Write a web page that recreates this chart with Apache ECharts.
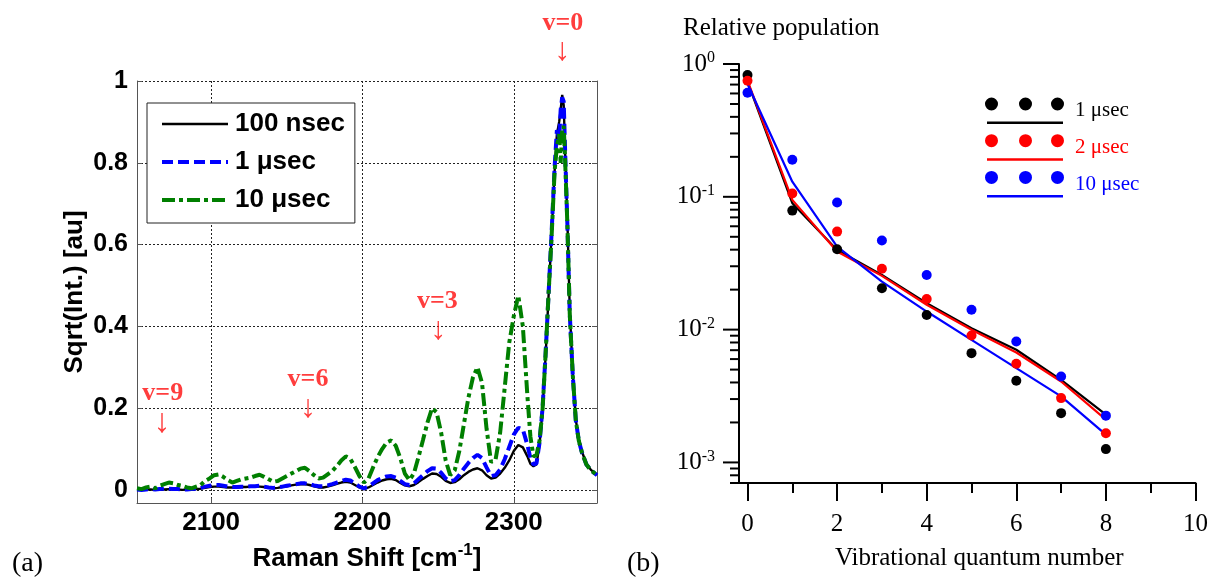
<!DOCTYPE html>
<html><head><meta charset="utf-8">
<script src="https://cdn.jsdelivr.net/npm/echarts@6/dist/echarts.min.js"></script>
<style>html,body{margin:0;padding:0;background:#fff}#c{width:1211px;height:578px}</style>
</head><body><div id="c"></div>
<script>
// ---------- Panel (a): Raman spectra ----------
const ramanShift = [2051,2054,2057,2060,2063,2066,2069,2072,2075,2078,2081,2084,2087,2090,2093,2096,2099,2102,2105,2108,2111,2114,2117,2120,2123,2126,2129,2132,2135,2138,2141,2144,2147,2150,2153,2156,2159,2162,2165,2168,2171,2174,2177,2180,2183,2186,2189,2192,2195,2198,2201,2204,2207,2210,2213,2216,2219,2222,2225,2228,2231,2234,2237,2240,2243,2246,2249,2252,2255,2258,2261,2264,2267,2270,2273,2276,2279,2282,2285,2288,2291,2294,2297,2300,2303,2306,2309,2311,2313,2315,2317,2319,2321,2323,2325,2327,2328.5,2330,2331,2332,2333,2334,2335.5,2337,2339,2341,2343,2345,2348,2351,2355];
const spec100ns = [0.000,0.000,0.001,0.001,0.000,0.001,0.001,0.002,0.001,0.001,
0.000,0.001,0.001,0.002,0.003,0.005,0.007,0.008,0.008,0.007,
0.006,0.006,0.006,0.007,0.007,0.008,0.008,0.008,0.007,0.005,
0.004,0.005,0.007,0.009,0.011,0.013,0.014,0.014,0.012,0.009,
0.006,0.006,0.008,0.011,0.015,0.018,0.020,0.018,0.012,0.006,
0.002,0.006,0.012,0.018,0.023,0.026,0.027,0.024,0.017,0.011,
0.009,0.012,0.019,0.027,0.034,0.040,0.039,0.032,0.022,0.017,
0.019,0.026,0.036,0.044,0.050,0.053,0.048,0.036,0.028,0.030,
0.040,0.054,0.072,0.095,0.110,0.104,0.082,
0.064,0.058,0.062,0.110,0.195,0.325,0.475,0.625,0.780,0.870,0.900,0.930,0.966,0.940,0.820,0.650,0.440,0.285,0.172,0.122,0.094,0.064,0.049,0.037];
const spec1us = [0.001,0.000,0.001,0.002,0.001,0.002,0.003,0.003,0.002,0.002,
0.001,0.001,0.002,0.003,0.005,0.008,0.010,0.012,0.012,0.010,
0.008,0.007,0.007,0.008,0.008,0.009,0.009,0.010,0.008,0.006,
0.005,0.006,0.008,0.010,0.012,0.014,0.016,0.016,0.014,0.011,
0.009,0.009,0.011,0.014,0.018,0.022,0.025,0.023,0.016,0.008,
0.004,0.008,0.016,0.024,0.029,0.033,0.034,0.030,0.022,0.014,
0.012,0.016,0.026,0.036,0.046,0.053,0.052,0.042,0.028,0.021,
0.024,0.036,0.052,0.066,0.078,0.086,0.078,0.055,0.034,0.036,
0.050,0.075,0.105,0.135,0.152,0.148,0.110,
0.078,0.062,0.065,0.115,0.200,0.330,0.480,0.630,0.790,0.880,0.860,0.930,0.960,0.950,0.820,0.640,0.430,0.280,0.170,0.120,0.092,0.062,0.048,0.036];
const spec10us = [0.004,0.002,0.006,0.008,0.004,0.010,0.014,0.018,0.016,0.012,
0.010,0.006,0.004,0.008,0.012,0.022,0.028,0.036,0.038,0.032,
0.024,0.018,0.022,0.026,0.028,0.030,0.034,0.037,0.032,0.026,
0.020,0.022,0.028,0.034,0.040,0.046,0.052,0.054,0.046,0.036,
0.028,0.030,0.038,0.046,0.058,0.072,0.082,0.076,0.056,0.034,
0.018,0.028,0.055,0.080,0.100,0.116,0.121,0.108,0.078,0.040,
0.024,0.040,0.080,0.122,0.165,0.200,0.190,0.140,0.072,0.036,
0.048,0.095,0.160,0.225,0.275,0.300,0.262,0.150,0.068,0.075,
0.140,0.250,0.360,0.425,0.475,0.400,0.230,
0.130,0.082,0.085,0.120,0.195,0.330,0.480,0.620,0.780,0.840,0.870,0.800,0.880,0.890,0.800,0.640,0.430,0.280,0.170,0.120,0.092,0.062,0.048,0.036];
const specNames = ['100 nsec', '1 \u03bcsec', '10 \u03bcsec'];
const ramanTicks = [2100, 2200, 2300];
const sqrtTicks = [0, 0.2, 0.4, 0.6, 0.8, 1];
// annotation labels (text centre) and arrows (centre)
const annotText = [[2332.4, 1.141, 'v=0'], [2249.5, 0.461, 'v=3'], [2164, 0.270, 'v=6'], [2068, 0.236, 'v=9']];
const annotArrow = [[2332.2, 1.071], [2250.2, 0.390], [2164.2, 0.198], [2067.5, 0.162]];

// ---------- Panel (b): relative population ----------
const vibQuantum = [0, 1, 2, 3, 4, 5, 6, 7, 8];
const pop1usPts  = [0.826, 0.0787, 0.0403, 0.0205, 0.0129, 0.00665, 0.00412, 0.00235, 0.00126];
const pop2usPts  = [0.749, 0.106, 0.0547, 0.0287, 0.0170, 0.00904, 0.00553, 0.00305, 0.00166];
const pop10usPts = [0.608, 0.190, 0.0905, 0.0469, 0.0258, 0.0141, 0.00815, 0.00444, 0.00225];
const pop1usFit  = [0.736, 0.0895, 0.0398, 0.0258, 0.0158, 0.01026, 0.00705, 0.00419, 0.00229];
const pop2usFit  = [0.749, 0.0948, 0.0387, 0.0254, 0.0154, 0.00997, 0.00673, 0.00407, 0.00210];
const pop10usFit = [0.707, 0.130, 0.0422, 0.0230, 0.01368, 0.00838, 0.00513, 0.00314, 0.00162];
const popNames = ['p1', 'p2', 'p10'];
const popLabels = {p1: '1 \u03bcsec', p2: '2 \u03bcsec', p10: '10 \u03bcsec'};
const popColors = ['#000000', '#ff0000', '#0000ff'];
const vibMin = -0.19, vibMax = 10;
const vibMajorTicks = [0, 2, 4, 6, 8, 10];
const vibMinorTicks = [1, 3, 5, 7, 9];
const popMin = 0.0007, popMax = 1;
const popMajorTicks = [0.001, 0.01, 0.1, 1];
const popMinorTicks = [0.9,0.8,0.7,0.6,0.5,0.4,0.3,0.2,0.09,0.08,0.07,0.06,0.05,0.04,0.03,0.02,0.009,0.008,0.007,0.006,0.005,0.004,0.003,0.002,0.0009,0.0008,0.0007];

const SANS = 'Liberation Sans';
const SERIF = 'Liberation Serif';
const RED = '#ff0d0d';
const pairs = (xs, ys) => xs.map((x, i) => [x, ys[i]]);

const chart = echarts.init(document.getElementById('c'), null, {renderer: 'canvas'});
const specColors = ['#000000', '#0000ff', '#007f00'];
const specStyles = [
  {width: 2.4, type: 'solid'},
  {width: 4, type: [11, 5]},
  {width: 4, type: [13, 4, 4, 4]}
];
const specData = [spec100ns, spec1us, spec10us];

const series = [];
specData.forEach((d, i) => {
  series.push({
    type: 'line', name: specNames[i], xAxisIndex: 0, yAxisIndex: 0,
    data: pairs(ramanShift, d), symbol: 'none', showSymbol: false,
    lineStyle: Object.assign({color: specColors[i]}, specStyles[i]),
    itemStyle: {color: specColors[i]}, z: 2 + i
  });
});
series.push({
  type: 'scatter', xAxisIndex: 0, yAxisIndex: 0, silent: true, clip: false,
  symbolSize: 0, data: annotText,
  label: {show: true, position: 'inside', formatter: p => p.value[2],
    fontFamily: SERIF, fontWeight: 'bold', fontSize: 26, color: RED}
});
series.push({
  type: 'scatter', xAxisIndex: 0, yAxisIndex: 0, silent: true, clip: false,
  symbolSize: 0,
  data: annotArrow.map((a, i) => ({value: a, label: i === 3 ? {fontWeight: 'bold', fontSize: 34} : {}})),
  label: {show: true, position: 'inside', formatter: '\u2193',
    fontFamily: SERIF, fontSize: 32, color: RED}
});
const ptsData = [pop1usPts, pop2usPts, pop10usPts];
const fitData = [pop1usFit, pop2usFit, pop10usFit];
ptsData.forEach((d, i) => {
  series.push({
    type: 'scatter', name: popNames[i], xAxisIndex: 1, yAxisIndex: 2,
    data: pairs(vibQuantum, d), symbol: 'circle', symbolSize: 10,
    itemStyle: {color: popColors[i], opacity: 1}, z: 5
  });
});
fitData.forEach((d, i) => {
  series.push({
    type: 'line', name: popNames[i], xAxisIndex: 1, yAxisIndex: 2,
    data: pairs(vibQuantum, d), symbol: 'none', showSymbol: false,
    lineStyle: {color: popColors[i], width: 2.2, opacity: 1}, itemStyle: {color: popColors[i]}, z: 3
  });
});

const dotted = {show: true, lineStyle: {color: '#222', width: 1, type: [2, 2]}};
const legendIcon = 'path://M0,6.5a6.5,6.5 0 1,0 13,0a6.5,6.5 0 1,0 -13,0z M34,6.5a6.5,6.5 0 1,0 13,0a6.5,6.5 0 1,0 -13,0z M66,6.5a6.5,6.5 0 1,0 13,0a6.5,6.5 0 1,0 -13,0z M2,24h76v2.5h-76z';

const baseGraphic = [
  {type: 'text', x: 683, y: 28, style: {text: 'Relative population', fontFamily: SERIF, fontSize: 25, fill: '#000', verticalAlign: 'middle'}},
  {type: 'text', x: 12, y: 564, style: {text: '(a)', fontFamily: SERIF, fontSize: 28, fill: '#000', verticalAlign: 'middle'}},
  {type: 'text', x: 627, y: 564, style: {text: '(b)', fontFamily: SERIF, fontSize: 28, fill: '#000', verticalAlign: 'middle'}}
];

const option = {
  animation: false,
  backgroundColor: '#ffffff',
  grid: [
    {left: 137, right: 614, top: 81, bottom: 75},
    {left: 739, right: 14, top: 64, bottom: 95}
  ],
  xAxis: [
    {type: 'value', gridIndex: 0, min: 2051, max: 2355, position: 'bottom',
      axisLine: {show: true, onZero: false, lineStyle: {color: '#555', width: 1}},
      axisTick: {show: true, inside: true, length: 5, customValues: ramanTicks, lineStyle: {color: '#555'}},
      axisLabel: {customValues: ramanTicks, margin: 7, fontFamily: SANS, fontWeight: 'bold', fontSize: 26, color: '#000',
        formatter: v => String(v)},
      splitLine: dotted,
      name: '{t|Raman Shift [cm}{s|-1}{t|]}', nameLocation: 'middle', nameGap: 35,
      nameTextStyle: {rich: {
        t: {fontFamily: SANS, fontWeight: 'bold', fontSize: 26, lineHeight: 30, padding: [5, 0, 0, 0], color: '#000'},
        s: {fontFamily: SANS, fontWeight: 'bold', fontSize: 17, lineHeight: 18, verticalAlign: 'top', color: '#000'}
      }}
    },
    {type: 'value', gridIndex: 1, min: vibMin, max: vibMax, position: 'bottom',
      axisLine: {show: true, onZero: false, lineStyle: {color: '#000', width: 2}},
      axisTick: {show: true, inside: false, length: 18, customValues: vibMajorTicks, lineStyle: {color: '#000', width: 2}},
      axisLabel: {customValues: vibMajorTicks, margin: 29, fontFamily: SERIF, fontSize: 25, color: '#000'},
      splitLine: {show: false},
      name: 'Vibrational quantum number', nameLocation: 'middle', nameGap: 61,
      nameTextStyle: {fontFamily: SERIF, fontSize: 25, lineHeight: 28, color: '#000', padding: [0, 0, 0, 24]}
    },
    {type: 'value', gridIndex: 1, min: vibMin, max: vibMax, position: 'bottom',
      axisLine: {show: false, onZero: false},
      axisTick: {show: true, inside: false, length: 10, customValues: vibMinorTicks, lineStyle: {color: '#000', width: 2}},
      axisLabel: {show: false}, splitLine: {show: false}
    }
  ],
  yAxis: [
    {type: 'value', gridIndex: 0, min: -0.032, max: 1, position: 'left',
      axisLine: {show: true, onZero: false, lineStyle: {color: '#555', width: 1}},
      axisTick: {show: true, inside: true, length: 5, customValues: sqrtTicks, lineStyle: {color: '#555'}},
      axisLabel: {customValues: sqrtTicks, margin: 9, fontFamily: SANS, fontWeight: 'bold', fontSize: 25, color: '#000',
        formatter: v => String(Math.round(v * 10) / 10)},
      splitLine: dotted,
      name: 'Sqrt(Int.) [au]', nameLocation: 'middle', nameGap: 49,
      nameTextStyle: {fontFamily: SANS, fontWeight: 'bold', fontSize: 26, color: '#000'}
    },
    {type: 'value', gridIndex: 0, min: -0.032, max: 1, position: 'right',
      axisLine: {show: true, onZero: false, lineStyle: {color: '#555', width: 1}},
      axisTick: {show: true, inside: true, length: 5, customValues: sqrtTicks, lineStyle: {color: '#555'}},
      axisLabel: {show: false}, splitLine: {show: false}
    },
    {type: 'log', logBase: 10, gridIndex: 1, min: popMin, max: popMax, position: 'left',
      axisLine: {show: true, onZero: false, lineStyle: {color: '#000', width: 2}},
      axisTick: {show: false},
      axisLabel: {customValues: popMajorTicks, margin: 24,
        formatter: v => '{b|10}{s|' + Math.round(Math.log10(v)) + '}',
        rich: {
          b: {fontFamily: SERIF, fontSize: 25, lineHeight: 28, color: '#000'},
          s: {fontFamily: SERIF, fontSize: 16, lineHeight: 16, verticalAlign: 'top', color: '#000'}
        }},
      splitLine: {show: false}
    }
  ],
  legend: [
    {data: specNames.map((n, i) => ({name: n, lineStyle: Object.assign({color: specColors[i]}, specStyles[i])})),
      orient: 'vertical', left: 147, top: 103,
      padding: [8, 10, 10, 13], itemWidth: 66, itemHeight: 24, itemGap: 12,
      borderColor: '#222', borderWidth: 1, backgroundColor: '#fff', selectedMode: false,
      itemStyle: {color: 'rgba(0,0,0,0)', opacity: 0, borderWidth: 0},
      textStyle: {fontFamily: SANS, fontWeight: 'bold', fontSize: 26, color: '#000', padding: [0, 0, 0, 2]}
    },
    {data: popNames.map((n, i) => ({name: n, textStyle: {color: popColors[i]}, itemStyle: {color: popColors[i], opacity: 1}})),
      orient: 'vertical', left: 985, top: 97.5, padding: 0,
      itemWidth: 79, itemHeight: 26.5, itemGap: 10.2, icon: legendIcon, selectedMode: false,
      formatter: n => popLabels[n],
      textStyle: {fontFamily: SERIF, fontSize: 21, padding: [0, 0, 13.5, 6]}
    }
  ],
  graphic: baseGraphic,
  series: series
};
chart.setOption(option);

// log-axis ticks (major + minor), positioned through the library's axes
function axisX() {
  let x = NaN;
  try { x = chart.convertToPixel({xAxisIndex: 1}, vibMin); } catch (e) {}
  if (!isFinite(x)) {
    try { x = chart.convertToPixel({xAxisIndex: 1}, 0) - (0 - vibMin) * (chart.convertToPixel({xAxisIndex: 1}, 10) - chart.convertToPixel({xAxisIndex: 1}, 0)) / 10; } catch (e) {}
  }
  if (!isFinite(x)) {
    try { x = chart.getModel().getComponent('grid', 1).coordinateSystem.getRect().x; } catch (e) {}
  }
  return x;
}
function axisY(v) {
  let y = NaN;
  try { y = chart.convertToPixel({yAxisIndex: 2}, v); } catch (e) {}
  if (!isFinite(y)) {
    try { y = chart.convertToPixel({seriesIndex: 5}, [0, v])[1]; } catch (e) {}
  }
  if (!isFinite(y)) {
    try {
      const r = chart.getModel().getComponent('grid', 1).coordinateSystem.getRect();
      y = r.y + (Math.log10(popMax) - Math.log10(v)) / (Math.log10(popMax) - Math.log10(popMin)) * r.height;
    } catch (e) {}
  }
  return y;
}
const tickLines = [];
const ax = axisX();
function addTicks(values, len) {
  values.forEach(v => {
    const y = axisY(v);
    if (isFinite(ax) && isFinite(y)) {
      tickLines.push({type: 'line', silent: true, z: 100,
        shape: {x1: ax - len, y1: y, x2: ax, y2: y},
        style: {stroke: '#000', lineWidth: 2}});
    }
  });
}
addTicks(popMajorTicks, 16);
addTicks(popMinorTicks, 9);
chart.setOption({graphic: baseGraphic.concat(tickLines)}, {replaceMerge: ['graphic']});
</script></body></html>
